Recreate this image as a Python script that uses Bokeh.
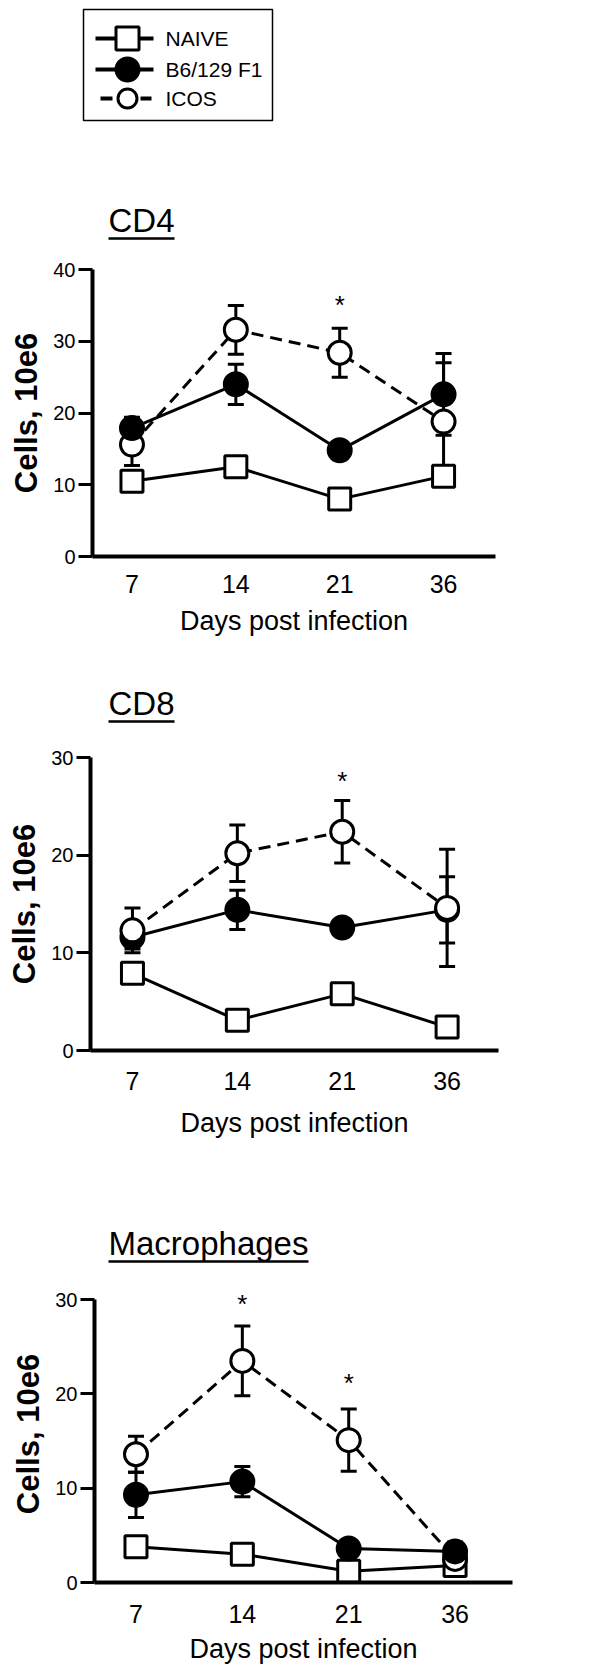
from bokeh.plotting import figure
from bokeh.layouts import column
from bokeh.models import Range1d, FixedTicker, Whisker, TeeHead, ColumnDataSource, Label
from bokeh.core.properties import value
from bokeh.embed import file_html
from bokeh.resources import INLINE

FONT = "Liberation Sans"
W = 600

# ---------------- data ----------------
days = ["7", "14", "21", "36"]
series = ["NAIVE", "B6/129 F1", "ICOS"]

cd4_naive = [10.5, 12.5, 8.0, 11.2]
cd4_b6 = [17.9, 24.0, 14.8, 22.6]
cd4_b6_err = [1.5, 2.8, 0.0, 5.7]
cd4_icos = [15.6, 31.6, 28.4, 18.8]
cd4_icos_err = [2.9, 3.4, 3.4, 8.2]
cd4_star_days = ["21"]
cd4_star_y = [36.0]

cd8_naive = [7.9, 3.1, 5.8, 2.4]
cd8_b6 = [11.6, 14.4, 12.6, 14.4]
cd8_b6_err = [1.2, 2.0, 0.0, 3.4]
cd8_icos = [12.3, 20.2, 22.4, 14.6]
cd8_icos_err = [2.3, 2.9, 3.2, 6.0]
cd8_star_days = ["21"]
cd8_star_y = [28.3]

mac_naive = [3.8, 3.0, 1.2, 1.8]
mac_b6 = [9.3, 10.7, 3.6, 3.3]
mac_b6_err = [2.4, 1.6, 0.0, 1.0]
mac_icos = [13.6, 23.5, 15.1, 2.5]
mac_icos_err = [1.9, 3.7, 3.3, 0.0]
mac_star_days = ["14", "21"]
mac_star_y = [30.2, 21.8]

STYLE = {
    "NAIVE": dict(marker="square", size=22, fill="white", dash="solid"),
    "B6/129 F1": dict(marker="circle", size=23, fill="black", dash="solid"),
    "ICOS": dict(marker="circle", size=23, fill="white", dash="12 7"),
}
TITLE_PX = 33
STAR_PX = 26


def header(height):
    p = figure(width=W, height=height, x_range=Range1d(0, W), y_range=Range1d(height, 0),
               output_backend="svg", toolbar_location=None, min_border=0,
               min_border_left=0, min_border_right=0, min_border_top=0, min_border_bottom=0,
               x_axis_type=None, y_axis_type=None, title=None, frame_align=False)
    p.outline_line_color = None
    return p


def add_title(p, text, y, em_width):
    p.text(x=[108], y=[y], text=[text], text_font=value(FONT), text_font_size=f"{TITLE_PX}px",
           text_baseline="middle", text_align="left", text_color="black")
    p.segment(x0=[108], y0=[y + 18], x1=[108 + em_width * TITLE_PX], y1=[y + 18],
              line_width=2.5, line_color="black")


def panel(naive, b6, b6_err, icos, icos_err, star_days, star_y, ymax, ystep, headroom,
          fig_top, height, frame, xr, order, tick_standoff, label_standoff):
    left, right, top, bottom = frame
    ytop = ymax + headroom
    p = figure(width=W, height=height, x_range=Range1d(*xr), y_range=Range1d(0, ytop),
               output_backend="svg", toolbar_location=None, title=None, frame_align=False,
               min_border_left=left, min_border_right=W - right,
               min_border_top=top - fig_top, min_border_bottom=fig_top + height - bottom)
    p.outline_line_color = None
    p.grid.visible = False
    x = list(range(1, len(days) + 1))
    px_per_unit = (bottom - top) / ytop

    # axes
    ya = p.yaxis[0]
    ya.bounds = (0, ymax)
    ya.ticker = FixedTicker(ticks=list(range(0, ymax + 1, ystep)))
    ya.axis_label = "Cells, 10e6"
    ya.axis_label_text_font = FONT
    ya.axis_label_text_font_style = "bold"
    ya.axis_label_text_font_size = "31px"
    ya.axis_label_text_color = "black"
    ya.axis_label_standoff = 6
    ya.axis_line_width = 4
    ya.axis_line_color = "black"
    ya.major_tick_line_width = 3
    ya.major_tick_line_color = "black"
    ya.major_tick_out = 14
    ya.major_tick_in = 0
    ya.minor_tick_line_color = None
    ya.major_label_text_font = FONT
    ya.major_label_text_font_size = "20px"
    ya.major_label_text_color = "black"
    ya.major_label_standoff = 3

    xa = p.xaxis[0]
    xa.ticker = FixedTicker(ticks=x)
    xa.major_label_overrides = {i: d for i, d in zip(x, days)}
    xa.axis_label = "Days post infection"
    xa.axis_label_text_font = FONT
    xa.axis_label_text_font_style = "normal"
    xa.axis_label_text_font_size = "27px"
    xa.axis_label_text_color = "black"
    xa.axis_label_standoff = label_standoff
    xa.axis_line_width = 4
    xa.axis_line_color = "black"
    xa.major_tick_line_color = None
    xa.major_tick_out = 0
    xa.major_tick_in = 0
    xa.minor_tick_line_color = None
    xa.major_label_text_font = FONT
    xa.major_label_text_font_size = "25px"
    xa.major_label_text_color = "black"
    xa.major_label_standoff = tick_standoff

    # error bars
    for vals, errs in [(b6, b6_err), (icos, icos_err)]:
        src = ColumnDataSource(dict(x=x,
                                    upper=[v + e for v, e in zip(vals, errs)],
                                    lower=[v - e for v, e in zip(vals, errs)]))
        p.add_layout(Whisker(base="x", upper="upper", lower="lower", source=src,
                             line_width=3, line_color="black",
                             upper_head=TeeHead(size=16, line_width=3, line_color="black"),
                             lower_head=TeeHead(size=16, line_width=3, line_color="black")))

    data = {"NAIVE": naive, "B6/129 F1": b6, "ICOS": icos}
    for name in series:
        st = STYLE[name]
        p.line(x, data[name], line_width=3, line_color="black", line_dash=st["dash"])
    for name in order:
        st = STYLE[name]
        p.scatter(x, data[name], marker=st["marker"], size=st["size"], line_width=3,
                  line_color="black", fill_color=st["fill"])

    # significance asterisks (the glyph sits ~0.25em above the text middle)
    shift = 0.25 * STAR_PX / px_per_unit
    for d, sy in zip(star_days, star_y):
        p.add_layout(Label(x=days.index(d) + 1, y=sy - shift, text="*", text_align="center",
                           text_baseline="middle", text_font=FONT,
                           text_font_size=f"{STAR_PX}px", text_color="black"))
    return p


# ---------- header with legend + CD4 title ----------
hA = header(259)
hA.quad(left=[83], right=[272], top=[9], bottom=[120], fill_color=None,
        line_color="black", line_width=1.5)
row_y = [38, 69, 98]
for name, yy in zip(series, row_y):
    st = STYLE[name]
    if name == "ICOS":
        hA.segment(x0=[100], y0=[yy], x1=[112], y1=[yy], line_width=4, line_color="black")
        hA.segment(x0=[140], y0=[yy], x1=[151], y1=[yy], line_width=4, line_color="black")
        msize = 19
    else:
        hA.segment(x0=[95], y0=[yy], x1=[153], y1=[yy], line_width=4, line_color="black")
        msize = 23
    hA.scatter([127], [yy], marker=st["marker"], size=msize, line_width=3,
               line_color="black", fill_color=st["fill"])
    hA.text(x=[165], y=[yy], text=[name], text_font=value(FONT), text_font_size="21px",
            text_baseline="middle", text_align="left", text_color="black")
add_title(hA, "CD4", 220, 2.0)

pB = panel(cd4_naive, cd4_b6, cd4_b6_err, cd4_icos, cd4_icos_err, cd4_star_days, cd4_star_y,
           40, 10, 0, fig_top=259, height=391, frame=(92, 495, 269, 556), xr=(0.62, 4.5),
           order=["NAIVE", "ICOS", "B6/129 F1"], tick_standoff=18, label_standoff=10)

hC = header(97)
add_title(hC, "CD8", 53, 2.0)

pD = panel(cd8_naive, cd8_b6, cd8_b6_err, cd8_icos, cd8_icos_err, cd8_star_days, cd8_star_y,
           30, 10, 0, fig_top=747, height=403, frame=(90, 498, 757, 1050), xr=(0.6, 4.49),
           order=["NAIVE", "B6/129 F1", "ICOS"], tick_standoff=21, label_standoff=15)

hE = header(120)
add_title(hE, "Macrophages", 93, 6.06)

# frame extends 1.5 units above the axis end so the top asterisk is not clipped
pF = panel(mac_naive, mac_b6, mac_b6_err, mac_icos, mac_icos_err, mac_star_days, mac_star_y,
           30, 10, 1.5, fig_top=1270, height=406, frame=(94, 512, 1285, 1582), xr=(0.61, 4.54),
           order=["NAIVE", "ICOS", "B6/129 F1"], tick_standoff=22, label_standoff=8)

layout = column(hA, pB, hC, pD, hE, pF, spacing=0)
open("out.html", "w").write(file_html(layout, INLINE))
